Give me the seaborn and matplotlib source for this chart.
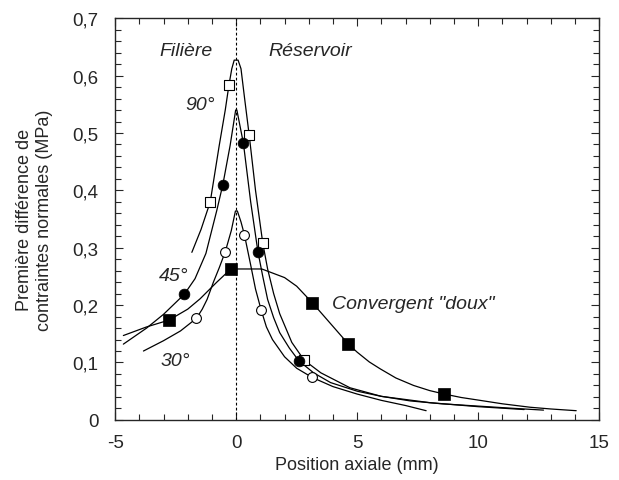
import numpy as np
import pandas as pd
import seaborn as sns
import matplotlib.pyplot as plt
from matplotlib.ticker import MultipleLocator, FuncFormatter

# measured points (markers)
sq90_x = [-1.07, -0.30, 0.54, 1.10, 2.81]
sq90_y = [0.380, 0.583, 0.496, 0.308, 0.104]
c45_x = [-2.14, -0.55, 0.30, 0.90, 2.59]
c45_y = [0.219, 0.410, 0.482, 0.293, 0.103]
c30_x = [-1.64, -0.45, 0.34, 1.03, 3.14]
c30_y = [0.177, 0.293, 0.323, 0.192, 0.074]
doux_x = [-2.77, -0.22, 3.15, 4.64, 8.60]
doux_y = [0.174, 0.263, 0.204, 0.132, 0.045]

# fitted curves
l90_x = [-1.83, -1.45, -1.07, -0.70, -0.45, -0.30, -0.18, -0.08, 0.08, 0.20, 0.35, 0.54,
         0.80, 1.10, 1.30, 1.55, 1.80, 2.30, 2.81, 3.50, 4.70, 6.00, 8.00, 10.0, 11.9]
l90_y = [0.292, 0.332, 0.380, 0.478, 0.540, 0.583, 0.612, 0.627, 0.627, 0.612, 0.560, 0.496,
         0.400, 0.308, 0.263, 0.220, 0.185, 0.135, 0.104, 0.082, 0.056, 0.041, 0.030, 0.023, 0.018]
l45_x = [-4.66, -3.70, -3.00, -2.14, -1.70, -1.25, -0.80, -0.55, -0.25, -0.02, 0.03, 0.30,
         0.60, 0.90, 1.10, 1.30, 1.55, 1.80, 2.20, 2.59, 3.20, 3.90, 5.00, 6.00, 7.20, 8.50,
         10.0, 11.5, 12.7]
l45_y = [0.132, 0.160, 0.184, 0.219, 0.246, 0.290, 0.365, 0.410, 0.478, 0.540, 0.540, 0.482,
         0.380, 0.293, 0.250, 0.210, 0.178, 0.152, 0.125, 0.103, 0.082, 0.065, 0.050, 0.041,
         0.033, 0.028, 0.024, 0.020, 0.017]
l30_x = [-3.83, -3.00, -2.30, -1.64, -1.40, -1.20, -0.94, -0.70, -0.45, -0.20, -0.03, 0.05,
         0.20, 0.34, 0.60, 0.80, 1.03, 1.25, 1.50, 2.00, 2.50, 3.14, 4.00, 5.00, 6.00, 7.00, 7.85]
l30_y = [0.120, 0.138, 0.155, 0.177, 0.193, 0.210, 0.240, 0.265, 0.293, 0.330, 0.364, 0.364,
         0.345, 0.323, 0.270, 0.228, 0.192, 0.162, 0.140, 0.110, 0.090, 0.074, 0.058, 0.045,
         0.034, 0.025, 0.016]
ldoux_x = [-4.66, -3.70, -2.77, -2.00, -1.49, -0.80, -0.22, 1.06, 2.00, 2.50, 3.15, 4.64,
           5.00, 5.50, 5.95, 6.60, 7.33, 8.00, 8.60, 9.30, 10.08, 11.00, 12.15, 13.00, 14.05]
ldoux_y = [0.147, 0.162, 0.174, 0.193, 0.211, 0.240, 0.263, 0.263, 0.248, 0.233, 0.204, 0.132,
           0.118, 0.101, 0.089, 0.073, 0.060, 0.051, 0.045, 0.039, 0.034, 0.028, 0.022, 0.019, 0.016]

sns.set_style("ticks")
plt.rcParams['font.family'] = ['Liberation Sans', 'DejaVu Sans']
plt.rcParams['axes.unicode_minus'] = False

fig = plt.figure(figsize=(6.19, 4.81), dpi=100)
ax = fig.add_axes([0.186, 0.125, 0.782, 0.835])

for lx, ly in [(l90_x, l90_y), (l45_x, l45_y), (l30_x, l30_y), (ldoux_x, ldoux_y)]:
    sns.lineplot(x=lx, y=ly, sort=False, estimator=None, color="black", lw=0.9, ax=ax)

ax.axvline(0, color="black", lw=0.8, ls=(0, (2.5, 2)), zorder=1)

sns.scatterplot(x=sq90_x, y=sq90_y, marker="s", s=50, facecolor="white", edgecolor="black",
                linewidth=0.8, ax=ax, zorder=3)
sns.scatterplot(x=c45_x, y=c45_y, marker="o", s=60, color="black", edgecolor="black",
                linewidth=0.5, ax=ax, zorder=3)
sns.scatterplot(x=c30_x, y=c30_y, marker="o", s=50, facecolor="white", edgecolor="black",
                linewidth=0.8, ax=ax, zorder=3)
sns.scatterplot(x=doux_x, y=doux_y, marker="s", s=85, color="black", edgecolor="black",
                linewidth=0.5, ax=ax, zorder=3)

ax.set_xlim(-5, 15)
ax.set_ylim(0, 0.7)
ax.xaxis.set_major_locator(MultipleLocator(5))
ax.xaxis.set_minor_locator(MultipleLocator(1))
ax.yaxis.set_major_locator(MultipleLocator(0.1))
ax.yaxis.set_minor_locator(MultipleLocator(0.02))
ax.yaxis.set_major_formatter(FuncFormatter(lambda v, p: "0" if abs(v) < 1e-9 else f"{v:.1f}".replace(".", ",")))
ax.tick_params(which="both", direction="in", top=True, right=True, labelsize=13.5, width=0.8)
ax.tick_params(axis="x", which="major", length=6, pad=10)
ax.tick_params(axis="y", which="major", length=6, pad=12)
ax.tick_params(which="minor", length=4)
for sp in ax.spines.values():
    sp.set_linewidth(1.0)

ax.set_xlabel("Position axiale (mm)", fontsize=13, labelpad=4)
ax.set_ylabel("Première différence de\ncontraintes normales (MPa)", fontsize=13, labelpad=14)

txt = dict(fontsize=14, style="italic", ha="center", va="center")
ax.text(-2.07, 0.643, "Filière", **txt)
ax.text(3.05, 0.643, "Réservoir", **txt)
ax.text(-1.49, 0.550, "90°", **txt)
ax.text(-2.59, 0.251, "45°", **txt)
ax.text(-2.52, 0.103, "30°", **txt)
ax.text(3.95, 0.202, "Convergent \"doux\"", fontsize=14, style="italic", ha="left", va="center")

fig.savefig("out.png", dpi=100)
